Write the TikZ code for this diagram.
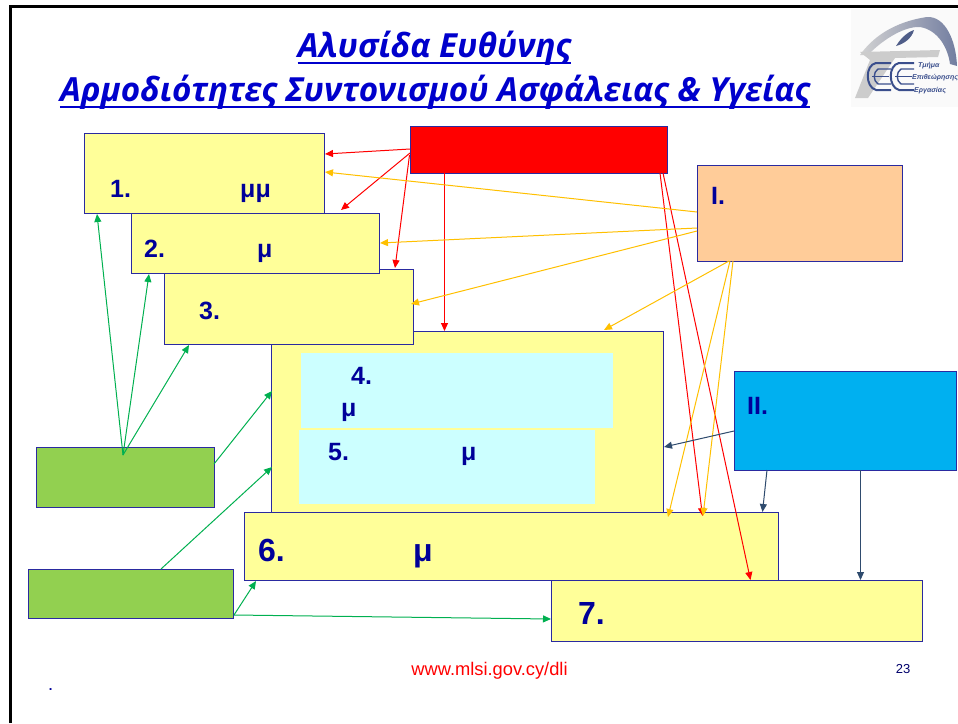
\documentclass[tikz,border=0pt]{standalone}
\usepackage{fontspec}
\setmainfont{Liberation Sans}
\newfontfamily\titlefont{Open Sans}
\usetikzlibrary{arrows.meta}
\definecolor{navy}{HTML}{000099}
\definecolor{edgeblue}{HTML}{2A2AA0}
\definecolor{ybox}{HTML}{FFFF99}
\definecolor{cbox}{HTML}{CCFFFF}
\definecolor{gbox}{HTML}{92D050}
\definecolor{obox}{HTML}{FFCC99}
\definecolor{bbox}{HTML}{00B0F0}
\definecolor{ared}{HTML}{FF0000}
\definecolor{aorange}{HTML}{FFC000}
\definecolor{agreen}{HTML}{00B050}
\definecolor{adark}{HTML}{2F4B6E}
\definecolor{titleblue}{HTML}{0000CC}
\definecolor{logoblue}{HTML}{3A4E8C}
\tikzset{
 panel/.style={draw=edgeblue,line width=1pt,anchor=north west,inner sep=0pt,outer sep=0pt},
 yellowpanel/.style={panel,fill=ybox},
 greenpanel/.style={panel,fill=gbox},
 cyanpanel/.style={anchor=north west,inner sep=0pt,outer sep=0pt,fill=cbox},
 lab/.style={anchor=base west,inner sep=0pt,text=navy,font=\bfseries\fontsize{#1}{#1}\selectfont},
 conn/.style={line width=1pt,-{Triangle[length=8pt,width=7pt]}},
 redc/.style={conn,draw=ared,color=ared},
 orangec/.style={conn,draw=aorange,color=aorange},
 greenc/.style={conn,draw=agreen,color=agreen},
 darkc/.style={conn,draw=adark,color=adark},
 logotext/.style={inner sep=0pt,anchor=base west,text=logoblue,font=\bfseries\itshape\fontsize{7}{7}\selectfont},
 titletext/.style={inner sep=0pt,anchor=base,text=titleblue,font=\titlefont\bfseries\itshape\fontsize{33.2}{33.2}\selectfont},
}
\begin{document}
\begin{tikzpicture}[x=1pt,y=-1pt]
\useasboundingbox (0,0) rectangle (958,723);
\fill[white] (0,0) rectangle (958,723);
% slide frame
\draw[black,line width=3pt] (10,723) -- (10,6) -- (958,6);
% title
\node[titletext] (t1) at (434.5,57) {Αλυσίδα Ευθύνης};
\node[titletext] (t2) at (435,101) {Αρμοδιότητες Συντονισμού Ασφάλειας \& Υγείας};
\draw[titleblue,line width=2pt] ([yshift=-5.5pt]t1.base west) -- ([yshift=-5.5pt]t1.base east);
\draw[titleblue,line width=2pt] ([yshift=-5.5pt]t2.base west) -- ([yshift=-5.5pt]t2.base east);
% logo
\fill[gray!4] (851,9) rectangle (958,107);
\shade[left color=gray!35,right color=logoblue!70!gray!80] (860,55) .. controls (872,38) and (893,22) .. (927,17) .. controls (945,16) and (956,40) .. (957,66) -- (950,64) .. controls (948,48) and (938,30) .. (920,27) .. controls (903,26) and (880,42) .. (868,55) -- cycle;
\fill[gray!40] (860,52) -- (940,50) -- (938,57) -- (895,58) -- (868,98) -- (855,98) -- (870,60) -- cycle;
\fill[logoblue!70!gray] (896,46) .. controls (902,36) and (910,31) .. (914,30) .. controls (912,38) and (904,44) .. (896,46) -- cycle;
\foreach \xx in {866,889}{
 \draw[logoblue,line width=2pt] (\xx+25,63) -- (\xx+10,63) .. controls (\xx-1,65) and (\xx-1,87) .. (\xx+10,90) -- (\xx+25,90);
 \draw[logoblue,line width=1.4pt] (\xx+25,69) -- (\xx+12,69) .. controls (\xx+7,72) and (\xx+7,81) .. (\xx+12,84) -- (\xx+25,84);
 \draw[logoblue,line width=1.6pt] (\xx+6,76.5) -- (\xx+23,76.5);
}
\node[logotext] (lg1) at (918,67) {Τμήμα};
\node[logotext] (lg2) at (912,79) {Επιθεώρησης};
\node[logotext] (lg3) at (914,92) {Εργασίας};
% panels, back to front
\node[yellowpanel,minimum width=391.5pt,minimum height=182pt] (b45) at (271.5,331) {};
\node[cyanpanel,minimum width=312pt,minimum height=75pt] (c4) at (301,353) {};
\node[cyanpanel,minimum width=296pt,minimum height=74pt] (c5) at (299,430) {};
\node[yellowpanel,minimum width=248.5pt,minimum height=75pt] (b3) at (164.5,269) {};
\node[yellowpanel,minimum width=248pt,minimum height=60pt] (b2) at (131.5,213) {};
\node[yellowpanel,minimum width=240.5pt,minimum height=80pt] (b1) at (84,133) {};
\node[yellowpanel,minimum width=534pt,minimum height=68pt] (b6) at (244,512.5) {};
\node[yellowpanel,minimum width=371pt,minimum height=61pt] (b7) at (551.5,580.5) {};
\node[panel,fill=ared,minimum width=257pt,minimum height=47pt] (rd) at (410.5,126.5) {};
\node[panel,fill=obox,minimum width=205pt,minimum height=96pt] (oI) at (697.5,165.5) {};
\node[panel,fill=bbox,minimum width=222pt,minimum height=99pt] (bII) at (734,371) {};
\node[greenpanel,minimum width=177.5pt,minimum height=60pt] (g1) at (36.5,447) {};
\node[greenpanel,minimum width=204.5pt,minimum height=49pt] (g2) at (28.5,569.5) {};
% labels
\node[lab=25] (l1) at (110,197) {1.};
\node[lab=25] (l1m) at (240,197) {μμ};
\node[lab=25] (l2) at (144,257) {2.};
\node[lab=25] (l2m) at (257,257) {μ};
\node[lab=25] (l3) at (199,319) {3.};
\node[lab=25] (l4) at (351,384) {4.};
\node[lab=25] (l4m) at (341,416) {μ};
\node[lab=25] (l5) at (328,460.5) {5.};
\node[lab=25] (l5m) at (461,460.5) {μ};
\node[lab=32] (l6) at (258,561) {6.};
\node[lab=32] (l6m) at (413,561) {μ};
\node[lab=32] (l7) at (578,624) {7.};
\node[lab=25] (lI) at (711,204) {I.};
\node[lab=25] (lII) at (747,414) {II.};
% red connectors
\coordinate (r1) at (410,149); \coordinate (r1e) at (325,154);
\coordinate (r2) at (410,153); \coordinate (r2e) at (341,210);
\coordinate (r3) at (409.5,155); \coordinate (r3e) at (395,268);
\coordinate (r4) at (444.5,173); \coordinate (r4e) at (444.5,331);
\coordinate (r5) at (660,173); \coordinate (r5e) at (702.5,516);
\coordinate (r6) at (663,173); \coordinate (r6e) at (750.5,580);
\draw[redc] (r1) -- (r1e);
\draw[redc] (r2) -- (r2e);
\draw[redc] (r3) -- (r3e);
\draw[redc] (r4) -- (r4e);
\draw[redc] (r5) -- (r5e);
\draw[redc] (r6) -- (r6e);
% orange connectors
\coordinate (o1) at (697,212); \coordinate (o1e) at (325,172);
\coordinate (o2) at (697,228); \coordinate (o2e) at (380,243);
\coordinate (o3) at (697,231); \coordinate (o3e) at (411,304);
\coordinate (o4) at (729,261); \coordinate (o4e) at (604,330);
\coordinate (o5) at (730,261); \coordinate (o5e) at (668,517);
\coordinate (o6) at (733,261); \coordinate (o6e) at (703,516);
\draw[orangec] (o1) -- (o1e);
\draw[orangec] (o2) -- (o2e);
\draw[orangec] (o3) -- (o3e);
\draw[orangec] (o4) -- (o4e);
\draw[orangec] (o5) -- (o5e);
\draw[orangec] (o6) -- (o6e);
% dark connectors
\coordinate (d1) at (734,431); \coordinate (d1e) at (664,447);
\coordinate (d2) at (767,470); \coordinate (d2e) at (762.5,512);
\coordinate (d3) at (860.5,470); \coordinate (d3e) at (860.5,580);
\draw[darkc] (d1) -- (d1e);
\draw[darkc] (d2) -- (d2e);
\draw[darkc] (d3) -- (d3e);
% green connectors
\coordinate (g0) at (123,455);
\coordinate (gA) at (97,214); \coordinate (gB) at (149,274); \coordinate (gC) at (189,345);
\coordinate (g1s) at (214,464); \coordinate (g1e) at (272,391);
\coordinate (g2a) at (161,569); \coordinate (g2ae) at (272,467);
\coordinate (g2b) at (234,615); \coordinate (g2be) at (256,581); \coordinate (g2ce) at (551,619);
\draw[greenc] (g0) -- (gA);
\draw[greenc] (g0) -- (gB);
\draw[greenc] (g0) -- (gC);
\draw[greenc] (g1s) -- (g1e);
\draw[greenc] (g2a) -- (g2ae);
\draw[greenc] (g2b) -- (g2be);
\draw[greenc] (g2b) -- (g2ce);
% footer
\node[inner sep=0pt,anchor=base,text=ared] (url) at (489.5,675) {\fontsize{18.3}{18.3}\selectfont www.mlsi.gov.cy/dli};
\node[inner sep=0pt,anchor=base,text=navy!70!black] (pg) at (903,673) {\fontsize{13}{13}\selectfont 23};
\node[inner sep=0pt,anchor=base,text=navy] (dot) at (50.7,690) {\bfseries\fontsize{13}{13}\selectfont .};
\end{tikzpicture}
\end{document}
